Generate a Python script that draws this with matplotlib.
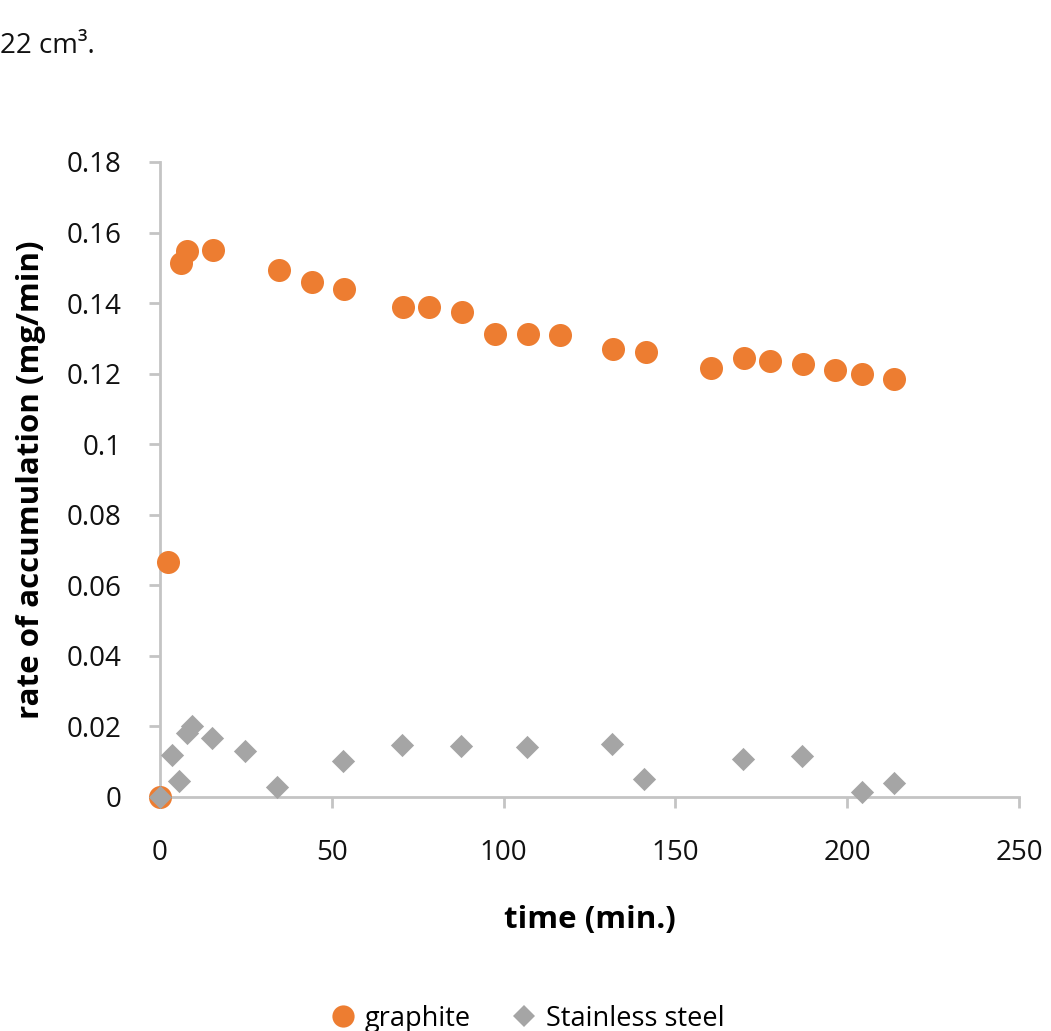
import matplotlib
matplotlib.use('Agg')
import matplotlib.pyplot as plt
import matplotlib.lines as mlines

plt.rcParams['font.family'] = ['Open Sans', 'DejaVu Sans']

COLOR_GRAPHITE = '#ED7D31'
COLOR_STEEL = '#A5A5A5'
COLOR_AXIS = '#C4C4C4'

# graphite electrode: time (min) vs rate of accumulation (mg/min)
graphite_t = [0, 2.3, 6.1, 8.0, 15.5, 34.6, 44.2, 53.7, 70.8, 78.4, 87.9,
              97.5, 107.0, 116.5, 131.8, 141.3, 160.4, 169.9, 177.5, 187.0,
              196.5, 204.2, 213.7]
graphite_rate = [0.0, 0.0666, 0.1513, 0.1549, 0.1550, 0.1494, 0.1460, 0.1441,
                 0.1390, 0.1388, 0.1375, 0.1312, 0.1311, 0.1310, 0.1270,
                 0.1261, 0.1215, 0.1244, 0.1237, 0.1227, 0.1210, 0.1200,
                 0.1186]

# stainless steel electrode
steel_t = [0, 3.6, 5.6, 7.8, 9.4, 15.1, 24.7, 34.2, 53.3, 70.5, 87.7, 106.8,
           131.6, 141.0, 169.7, 186.9, 204.2, 213.6]
steel_rate = [0.0, 0.0118, 0.0045, 0.0181, 0.0201, 0.0168, 0.0130, 0.0027,
              0.0102, 0.0148, 0.0145, 0.0141, 0.0149, 0.0050, 0.0108, 0.0116,
              0.0013, 0.0039]

x_ticks = [0, 50, 100, 150, 200, 250]
y_ticks = [0, 0.02, 0.04, 0.06, 0.08, 0.1, 0.12, 0.14, 0.16, 0.18]
y_tick_labels = ['0', '0.02', '0.04', '0.06', '0.08', '0.1', '0.12', '0.14',
                 '0.16', '0.18']

fig = plt.figure(figsize=(10.51, 10.31), dpi=100)
ax = fig.add_axes([0.1522, 0.2270, 0.8174, 0.6159])

ax.scatter(graphite_t, graphite_rate, s=275, marker='o', color=COLOR_GRAPHITE,
           linewidths=0, zorder=3, clip_on=False)
ax.scatter(steel_t, steel_rate, s=140, marker='D', color=COLOR_STEEL,
           linewidths=0, zorder=4, clip_on=False)

ax.set_xlim(0, 250)
ax.set_ylim(0, 0.18)
ax.set_xticks(x_ticks)
ax.set_yticks(y_ticks)
ax.set_yticklabels(y_tick_labels)

for side in ('top', 'right'):
    ax.spines[side].set_visible(False)
for side in ('left', 'bottom'):
    ax.spines[side].set_color(COLOR_AXIS)
    ax.spines[side].set_linewidth(2)

ax.tick_params(axis='both', direction='out', length=8, width=2,
               color=COLOR_AXIS, labelsize=20, labelcolor='#111111')
ax.tick_params(axis='y', pad=19.5)
ax.tick_params(axis='x', pad=22)

ax.set_xlabel('time (min.)', fontsize=22.5, fontweight='bold')
ax.set_ylabel('rate of accumulation (mg/min)', fontsize=22.5,
              fontweight='bold')
ax.xaxis.set_label_coords(0.5, -0.170)
ax.yaxis.set_label_coords(-0.133, 0.5)

fig.text(0.0, 0.955, '22 cm³.', fontsize=20, ha='left', va='center',
         color='#111111')

g_handle = mlines.Line2D([], [], linestyle='none', marker='o', markersize=16,
                         markeredgewidth=0, color=COLOR_GRAPHITE,
                         label='graphite')
s_handle = mlines.Line2D([], [], linestyle='none', marker='D', markersize=11,
                         markeredgewidth=0, color=COLOR_STEEL,
                         label='Stainless steel')
fig.legend(handles=[g_handle, s_handle], loc='center', ncol=2,
           bbox_to_anchor=(0.5, 0.012), frameon=False, fontsize=19.5,
           handletextpad=0.2, columnspacing=1.4, handlelength=1.2)

fig.savefig('out.png', dpi=100)
plt.close(fig)
